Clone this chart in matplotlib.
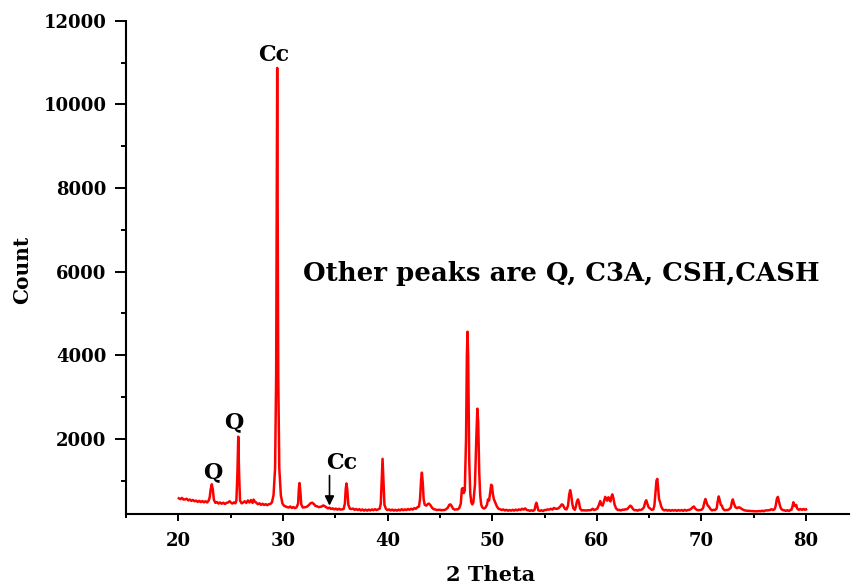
import matplotlib
matplotlib.use("Agg")
import matplotlib.pyplot as plt
from matplotlib.ticker import MultipleLocator

# ---- data (2 Theta, Count) ----
two_theta = [
    20.05, 20.2, 20.35, 20.5, 20.65, 20.8, 20.95, 21.1, 21.25, 21.4, 21.55, 21.7, 21.85, 22.0,
    22.15, 22.3, 22.45, 22.6, 22.75, 22.9, 23.0, 23.1, 23.2, 23.3, 23.4, 23.55, 23.7, 23.85,
    24.0, 24.15, 24.3, 24.45, 24.6, 24.75, 24.9, 25.0, 25.15, 25.3, 25.45, 25.55, 25.65, 25.73,
    25.81, 25.9, 26.05, 26.2, 26.35, 26.5, 26.65, 26.8, 26.95, 27.1, 27.2, 27.3, 27.45, 27.6,
    27.75, 27.9, 28.05, 28.2, 28.35, 28.5, 28.65, 28.8, 28.95, 29.1, 29.25, 29.35, 29.45, 29.55,
    29.65, 29.8, 29.95, 30.1, 30.25, 30.4, 30.55, 30.7, 30.85, 31.0, 31.15, 31.3, 31.45, 31.52,
    31.58, 31.66, 31.75, 31.9, 32.05, 32.2, 32.35, 32.5, 32.65, 32.8, 32.95, 33.1, 33.25, 33.4,
    33.55, 33.7, 33.85, 34.0, 34.15, 34.3, 34.45, 34.6, 34.75, 34.9, 35.05, 35.2, 35.35, 35.5,
    35.65, 35.8, 35.92, 36.0, 36.07, 36.15, 36.25, 36.4, 36.55, 36.7, 36.85, 37.0, 37.15, 37.3,
    37.45, 37.6, 37.75, 37.9, 38.05, 38.2, 38.35, 38.5, 38.65, 38.8, 38.95, 39.1, 39.25, 39.35,
    39.45, 39.52, 39.6, 39.7, 39.85, 40.0, 40.15, 40.3, 40.45, 40.6, 40.75, 40.9, 41.05, 41.2,
    41.35, 41.5, 41.65, 41.8, 41.95, 42.1, 42.25, 42.4, 42.55, 42.7, 42.85, 43.0, 43.1, 43.2,
    43.28, 43.36, 43.45, 43.55, 43.7, 43.85, 43.95, 44.1, 44.25, 44.4, 44.55, 44.7, 44.85, 45.0,
    45.15, 45.3, 45.45, 45.6, 45.75, 45.9, 46.0, 46.1, 46.25, 46.4, 46.55, 46.7, 46.85, 47.0,
    47.1, 47.18, 47.28, 47.38, 47.5, 47.58, 47.64, 47.7, 47.8, 47.9, 48.0, 48.1, 48.2, 48.35,
    48.48, 48.58, 48.66, 48.76, 48.85, 48.95, 49.05, 49.2, 49.35, 49.5, 49.6, 49.7, 49.8, 49.9,
    49.98, 50.05, 50.15, 50.3, 50.45, 50.6, 50.75, 50.9, 51.05, 51.2, 51.35, 51.5, 51.65, 51.8,
    51.95, 52.1, 52.25, 52.4, 52.55, 52.7, 52.85, 53.0, 53.15, 53.3, 53.45, 53.6, 53.75, 53.9,
    54.05, 54.15, 54.22, 54.3, 54.4, 54.55, 54.7, 54.85, 55.0, 55.15, 55.3, 55.45, 55.6, 55.75,
    55.9, 56.05, 56.2, 56.35, 56.5, 56.65, 56.75, 56.85, 56.95, 57.1, 57.25, 57.35, 57.45, 57.55,
    57.65, 57.75, 57.9, 58.0, 58.1, 58.2, 58.3, 58.4, 58.55, 58.7, 58.85, 59.0, 59.15, 59.3,
    59.45, 59.6, 59.75, 59.9, 60.05, 60.2, 60.32, 60.42, 60.55, 60.68, 60.8, 60.9, 61.0, 61.1,
    61.2, 61.3, 61.4, 61.48, 61.58, 61.7, 61.85, 62.0, 62.15, 62.3, 62.45, 62.6, 62.75, 62.9,
    63.05, 63.2, 63.3, 63.45, 63.6, 63.75, 63.9, 64.05, 64.2, 64.35, 64.5, 64.62, 64.72, 64.82,
    64.95, 65.1, 65.25, 65.4, 65.5, 65.6, 65.7, 65.78, 65.86, 65.95, 66.05, 66.15, 66.3, 66.45,
    66.6, 66.75, 66.9, 67.05, 67.2, 67.35, 67.5, 67.65, 67.8, 67.95, 68.1, 68.25, 68.4, 68.55,
    68.7, 68.85, 69.0, 69.15, 69.28, 69.4, 69.55, 69.7, 69.85, 70.0, 70.15, 70.28, 70.38, 70.48,
    70.6, 70.7, 70.85, 71.0, 71.15, 71.3, 71.45, 71.55, 71.65, 71.75, 71.85, 71.95, 72.05, 72.2,
    72.35, 72.5, 72.65, 72.8, 72.92, 73.0, 73.1, 73.25, 73.4, 73.55, 73.7, 73.85, 74.0, 74.15,
    74.3, 74.45, 74.6, 74.75, 74.9, 75.05, 75.2, 75.35, 75.5, 75.65, 75.8, 75.95, 76.1, 76.25,
    76.4, 76.55, 76.7, 76.85, 77.0, 77.1, 77.2, 77.3, 77.4, 77.5, 77.6, 77.75, 77.9, 78.05,
    78.2, 78.35, 78.5, 78.6, 78.7, 78.78, 78.88, 78.98, 79.05, 79.15, 79.3, 79.45, 79.6, 79.75,
    79.9, 80.0,
]
counts = [
    575, 555, 585, 545, 550, 565, 525, 545, 515, 535, 505, 520, 490, 515,
    485, 510, 480, 505, 475, 520, 600, 800, 910, 780, 540, 465, 485, 450,
    475, 445, 470, 440, 465, 475, 505, 480, 450, 475, 455, 520, 1200, 2050,
    1150, 520, 455, 475, 505, 465, 525, 475, 535, 465, 545, 500, 470, 435,
    455, 420, 445, 415, 435, 410, 435, 440, 480, 650, 1300, 3500, 10870, 3500,
    1300, 650, 450, 400, 380, 365, 355, 380, 345, 365, 340, 360, 450, 800,
    940, 750, 430, 355, 360, 365, 385, 420, 460, 470, 440, 395, 385, 365,
    370, 380, 405, 385, 360, 335, 350, 320, 335, 310, 330, 305, 325, 305,
    310, 320, 450, 800, 930, 780, 420, 325, 320, 330, 300, 320, 295, 315,
    285, 310, 280, 305, 280, 305, 285, 310, 290, 315, 295, 310, 330, 450,
    1100, 1520, 1050, 420, 320, 295, 310, 285, 305, 280, 300, 280, 305, 285,
    315, 290, 310, 295, 320, 300, 325, 305, 340, 325, 360, 380, 550, 1000,
    1190, 950, 550, 420, 400, 440, 450, 410, 350, 315, 310, 295, 300, 300,
    290, 295, 295, 315, 350, 420, 430, 400, 330, 305, 310, 310, 340, 450,
    800, 820, 700, 760, 2000, 4000, 4560, 4000, 1500, 700, 480, 430, 480, 900,
    2000, 2720, 2400, 1200, 650, 420, 360, 330, 350, 420, 550, 520, 700, 900,
    880, 700, 560, 470, 380, 325, 315, 295, 310, 285, 300, 280, 295, 280,
    300, 280, 305, 285, 310, 295, 325, 305, 335, 295, 290, 275, 290, 275,
    300, 420, 470, 400, 290, 275, 290, 270, 295, 295, 310, 305, 325, 305,
    345, 325, 325, 340, 380, 430, 420, 370, 320, 310, 400, 650, 770, 650,
    450, 340, 300, 380, 500, 550, 470, 330, 285, 290, 285, 285, 290, 290,
    295, 325, 295, 310, 330, 420, 510, 420, 400, 500, 610, 560, 520, 600,
    560, 500, 620, 670, 580, 420, 330, 295, 300, 285, 305, 300, 315, 315,
    360, 400, 380, 320, 290, 295, 280, 300, 295, 315, 360, 480, 530, 450,
    360, 330, 300, 310, 400, 700, 1000, 1040, 800, 550, 480, 380, 310, 285,
    300, 280, 295, 275, 295, 280, 295, 275, 295, 280, 295, 275, 300, 280,
    295, 300, 320, 360, 380, 330, 300, 290, 295, 300, 340, 480, 560, 480,
    400, 380, 320, 285, 300, 295, 330, 500, 620, 520, 420, 400, 330, 290,
    295, 295, 315, 350, 500, 550, 450, 360, 340, 360, 350, 320, 300, 285,
    280, 275, 275, 270, 270, 265, 265, 265, 270, 265, 280, 265, 285, 285,
    290, 295, 315, 295, 320, 400, 560, 610, 500, 400, 330, 295, 290, 275,
    290, 270, 295, 300, 380, 480, 400, 390, 420, 330, 300, 320, 300, 320,
    300, 310,
]

x_major = [20, 30, 40, 50, 60, 70, 80]
y_major = [2000, 4000, 6000, 8000, 10000, 12000]

peak_labels = ["Cc", "Q", "Q", "Cc"]
peak_label_x = [29.1, 25.28, 23.25, 35.66]
peak_label_y = [11180, 2390, 1190, 1430]
note_text = "Other peaks are Q, C3A, CSH,CASH"

font = "DejaVu Serif"

fig = plt.figure(figsize=(8.51, 5.87), dpi=100)
ax = fig.add_axes([126 / 851, 73 / 587, 723 / 851, 493.3 / 587])

ax.plot(two_theta, counts, color="#ff0000", lw=1.8)

ax.set_xlim(15, 84.1)
ax.set_ylim(200, 12000)
ax.set_xticks(x_major)
ax.set_yticks(y_major)
ax.xaxis.set_minor_locator(MultipleLocator(5))
ax.yaxis.set_minor_locator(MultipleLocator(1000))

for s in ["top", "right"]:
    ax.spines[s].set_visible(False)
for s in ["left", "bottom"]:
    ax.spines[s].set_linewidth(1.5)

ax.tick_params(axis="x", which="major", length=5, width=1.4, pad=8, direction="out")
ax.tick_params(axis="x", which="minor", length=3, width=1.4, direction="out")
ax.tick_params(axis="y", which="major", length=8, width=1.4, pad=6, direction="out")
ax.tick_params(axis="y", which="minor", length=3.8, width=1.4, direction="out")

for lab in ax.get_xticklabels() + ax.get_yticklabels():
    lab.set_fontfamily(font)
    lab.set_fontweight("bold")
    lab.set_fontsize(13)

ax.set_xlabel("2 Theta", fontfamily=font, fontweight="bold", fontsize=15, va="center")
ax.xaxis.set_label_coords((491 - 126) / 723, (514 - 575) / 493.3)
ax.set_ylabel("Count", fontfamily=font, fontweight="bold", fontsize=14.5, va="center")
ax.yaxis.set_label_coords((22 - 126) / 723, (514 - 270) / 493.3)

for t, xx, yy in zip(peak_labels, peak_label_x, peak_label_y):
    ax.text(xx, yy, t, fontfamily=font, fontweight="bold", fontsize=16,
            ha="center", va="center")

ax.annotate("", xy=(34.45, 400), xytext=(34.45, 1120),
            arrowprops=dict(arrowstyle="-|>", color="black", lw=1.2,
                            mutation_scale=14, shrinkA=0, shrinkB=0))

ax.text(31.95, 5950, note_text, fontfamily=font, fontweight="bold", fontsize=18.7,
        ha="left", va="center")

fig.savefig("out.png", dpi=100)
